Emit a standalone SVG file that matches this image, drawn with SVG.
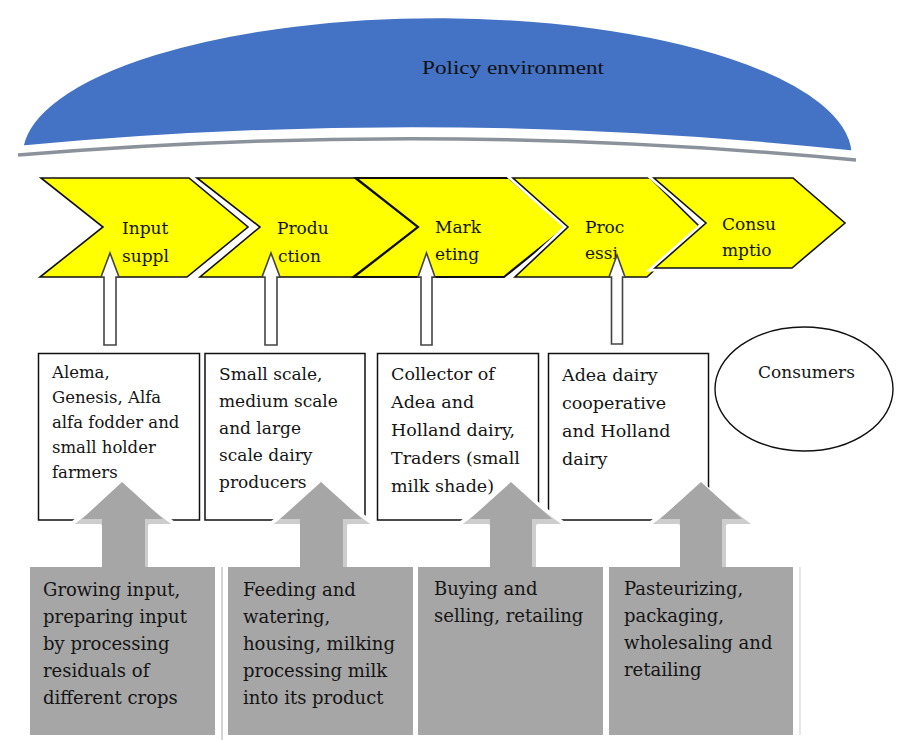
<svg xmlns="http://www.w3.org/2000/svg" width="897" height="740" viewBox="0 0 897 740">
<style>
.t{font-family:"DejaVu Serif","Liberation Serif",serif;fill:#141414}
.chev{fill:#ffff00;stroke:#111;stroke-width:1.6;stroke-linejoin:miter}
.halo{fill:#ffff00;stroke:#fff;stroke-width:7;stroke-linejoin:miter}
.hollow{fill:#fff;stroke:#444;stroke-width:1.6}
.wbox{fill:#fff;stroke:#111;stroke-width:1.5}
.gbox{fill:#a6a6a6}
.garrow{fill:#a6a6a6}
.gshadow{fill:#cdcdcd;stroke:#fff;stroke-width:4;stroke-linejoin:round}
</style>
<rect width="897" height="740" fill="#fff"/>

<g id="policy">
<path d="M18,155 Q436,120 856,160" fill="none" stroke="#8c929c" stroke-width="3.5"/>
<path d="M22,147 A416 139 0 0 1 853,152 Q436,108 22,147 Z" fill="#4472c4" stroke="#fff" stroke-width="3"/>
<text x="422" y="74" font-family="Liberation Serif, serif" font-size="18" textLength="182" lengthAdjust="spacingAndGlyphs" fill="#111">Policy environment</text>
</g>

<g id="chevron-input">
<path class="halo" d="M41,178 L189,178 L248,227 L187,277 L40,277 L103,227 Z"/>
<path class="chev" d="M41,178 L189,178 L248,227 L187,277 L40,277 L103,227 Z"/>
<text class="t" font-size="17" x="122" y="234">Input</text>
<text class="t" font-size="17" x="122" y="262">suppl</text>
</g>
<g id="chevron-production">
<path class="halo" d="M197,178 L355,178 L418,227 L353,277 L200,277 L260,227 Z"/>
<path class="chev" d="M197,178 L355,178 L418,227 L353,277 L200,277 L260,227 Z"/>
<text class="t" font-size="17" x="277" y="234">Produ</text>
<text class="t" font-size="17" x="278" y="262">ction</text>
</g>
<g id="chevron-marketing">
<path class="chev" style="stroke-width:2.2" d="M356,178 L509,178 L566,227 L504,277 L354,277 L418,227 Z"/>
<text class="t" font-size="17" x="435" y="233">Mark</text>
<text class="t" font-size="17" x="435" y="260">eting</text>
</g>
<g id="chevron-processing">
<path class="halo" d="M513,178 L650,178 L700,227 L647,277 L515,277 L568,227 Z"/>
<path class="chev" d="M513,178 L650,178 L700,227 L647,277 L515,277 L568,227 Z"/>
<text class="t" font-size="17" x="585" y="233">Proc</text>
<text class="t" font-size="17" x="585" y="259">essi</text>
</g>
<g id="chevron-consumption">
<path class="halo" d="M654,178 L793,178 L845,223 L792,268 L655,268 L706,223 Z"/>
<path class="chev" d="M654,178 L793,178 L845,223 L792,268 L655,268 L706,223 Z"/>
<text class="t" font-size="17" x="722" y="230">Consu</text>
<text class="t" font-size="17" x="722" y="256">mptio</text>
</g>

<g id="box-input">
<rect class="wbox" x="38.5" y="353.5" width="161" height="166.5"/>
<text class="t" font-size="16.5" x="52"><tspan x="52" y="378">Alema,</tspan><tspan x="52" y="403">Genesis, Alfa</tspan><tspan x="52" y="428">alfa fodder and</tspan><tspan x="52" y="453">small holder</tspan><tspan x="52" y="478">farmers</tspan></text>
</g>
<g id="box-production">
<rect class="wbox" x="205" y="353.5" width="160" height="166.5"/>
<text class="t" font-size="17" x="219"><tspan x="219" y="380">Small scale,</tspan><tspan x="219" y="407">medium scale</tspan><tspan x="219" y="434">and large</tspan><tspan x="219" y="461">scale dairy</tspan><tspan x="219" y="488">producers</tspan></text>
</g>
<g id="box-marketing">
<rect class="wbox" x="377.5" y="353.5" width="161" height="166.5"/>
<text class="t" font-size="17.5" x="391"><tspan x="391" y="380">Collector of</tspan><tspan x="391" y="408">Adea and</tspan><tspan x="391" y="436">Holland dairy,</tspan><tspan x="391" y="464">Traders (small</tspan><tspan x="391" y="492">milk shade)</tspan></text>
</g>
<g id="box-processing">
<rect class="wbox" x="548.5" y="353.5" width="160" height="166.5"/>
<text class="t" font-size="17.5" x="562"><tspan x="562" y="381">Adea dairy</tspan><tspan x="562" y="409">cooperative</tspan><tspan x="562" y="437">and Holland</tspan><tspan x="562" y="465">dairy</tspan></text>
</g>
<g id="consumers">
<ellipse cx="804" cy="389" rx="89" ry="62" fill="#fff" stroke="#111" stroke-width="1.4"/>
<text class="t" font-size="17" x="758" y="378">Consumers</text>
</g>

<g id="connectors">
<g id="hollow-arrows">
<path class="hollow" d="M110,253 L119,277 L116,277 L116,345 L104,345 L104,277 L101,277 Z"/>
<path class="hollow" d="M271,253 L280,277 L277,277 L277,345 L265,345 L265,277 L262,277 Z"/>
<path class="hollow" d="M426.5,253 L435,277 L432,277 L432,345 L421,345 L421,277 L418,277 Z"/>
<path class="hollow" d="M617,255 L625,277 L622.5,277 L622.5,344 L611.5,344 L611.5,277 L609,277 Z"/>
</g>
<g id="grey-arrows">
<path class="gshadow" d="M122,484 L177,526 L150,526 L150,575 L100,575 L100,526 L69,526 Z"/>
<path class="garrow" d="M122,482 L163,519 L145,519 L145,575 L102,575 L102,519 L82,519 Z"/>
<path class="gshadow" d="M321,484 L376,526 L349,526 L349,575 L299,575 L299,526 L268,526 Z"/>
<path class="garrow" d="M321,482 L362,519 L343,519 L343,575 L300,575 L300,519 L280,519 Z"/>
<path class="gshadow" d="M511,484 L567,526 L538,526 L538,575 L488,575 L488,526 L457,526 Z"/>
<path class="garrow" d="M511,482 L552,519 L532,519 L532,575 L490,575 L490,519 L470,519 Z"/>
<path class="gshadow" d="M701,484 L757,526 L728,526 L728,575 L678,575 L678,526 L647,526 Z"/>
<path class="garrow" d="M701,482 L742,519 L722,519 L722,575 L680,575 L680,519 L660,519 Z"/>
</g>
</g>

<g id="activity-input">
<rect class="gbox" x="30" y="567" width="185" height="168"/>
<text class="t" font-size="18" x="43"><tspan x="43" y="596">Growing input,</tspan><tspan x="43" y="623">preparing input</tspan><tspan x="43" y="650">by processing</tspan><tspan x="43" y="677">residuals of</tspan><tspan x="43" y="704">different crops</tspan></text>
</g>
<line x1="222" y1="567" x2="222" y2="740" stroke="#c4c4c4" stroke-width="1.5"/>
<g id="activity-production">
<rect class="gbox" x="228" y="567" width="185" height="168"/>
<text class="t" font-size="18" x="243"><tspan x="243" y="596">Feeding and</tspan><tspan x="243" y="623">watering,</tspan><tspan x="243" y="650">housing, milking</tspan><tspan x="243" y="677">processing milk</tspan><tspan x="243" y="704">into its product</tspan></text>
</g>
<g id="activity-marketing">
<rect class="gbox" x="418" y="567" width="185" height="168"/>
<text class="t" font-size="18" x="434"><tspan x="434" y="595">Buying and</tspan><tspan x="434" y="622">selling, retailing</tspan></text>
</g>
<g id="activity-processing">
<rect class="gbox" x="609" y="567" width="184" height="168"/>
<text class="t" font-size="18" x="624"><tspan x="624" y="595">Pasteurizing,</tspan><tspan x="624" y="622">packaging,</tspan><tspan x="624" y="649">wholesaling and</tspan><tspan x="624" y="676">retailing</tspan></text>
</g>
<line x1="800" y1="567" x2="800" y2="735" stroke="#dedede" stroke-width="1.5"/>
</svg>
